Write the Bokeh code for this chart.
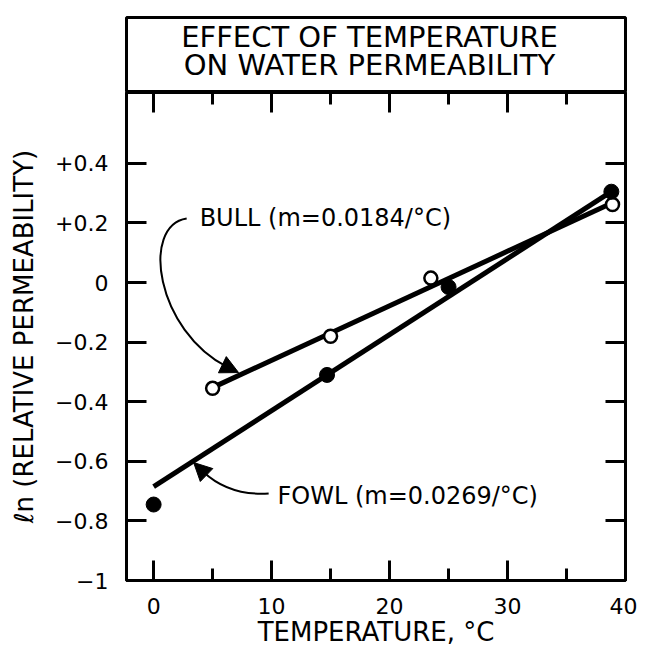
from bokeh.plotting import figure
from bokeh.models import Range1d, FixedTicker, LinearAxis, Label, Arrow, NormalHead, CustomJSTickFormatter
from bokeh.layouts import column
from bokeh.embed import file_html
from bokeh.resources import INLINE

# ---- data ----
temp_bull = [5.0, 15.0, 23.5, 38.9]
lnp_bull = [-0.355, -0.18, 0.015, 0.262]
temp_fowl = [0.0, 14.7, 25.0, 38.8]
lnp_fowl = [-0.745, -0.31, -0.015, 0.305]

bull_fit_x = [5.4, 38.9]
bull_fit_y = [-0.345, 0.268]
fowl_fit_x = [0.0, 38.8]
fowl_fit_y = [-0.685, 0.305]

x_ticks = [0, 10, 20, 30, 40]
x_minor = [5, 15, 25, 35]
y_ticks = [-1.0, -0.8, -0.6, -0.4, -0.2, 0.0, 0.2, 0.4]
y_tick_labels = ["\u22121", "\u22120.8", "\u22120.6", "\u22120.4", "\u22120.2", "0", "+0.2", "+0.4"]

title_lines = ["EFFECT OF TEMPERATURE", "ON WATER PERMEABILITY"]
bull_note = "BULL (m=0.0184/\u00b0C)"
fowl_note = "FOWL (m=0.0269/\u00b0C)"
x_label = "TEMPERATURE, \u00b0C"
y_label = "\u2113n (RELATIVE PERMEABILITY)"

FONT = "DejaVu Sans"
LW = 3

# ---- title box ----
t = figure(frame_width=499, frame_height=75, min_border_left=126, min_border_right=12,
           min_border_top=17, min_border_bottom=0, x_range=Range1d(0, 1), y_range=Range1d(0, 1),
           x_axis_type=None, y_axis_type=None, output_backend="svg", toolbar_location=None)
t.outline_line_color = "black"
t.outline_line_width = LW
t.grid.visible = False
for yy, txt in zip([0.74, 0.365], title_lines):
    t.add_layout(Label(x=0.487, y=yy, text=txt, text_align="center", text_baseline="middle",
                       text_font=FONT, text_font_size="29px", text_color="black"))

# ---- main plot ----
p = figure(frame_width=499, frame_height=488, min_border_left=126, min_border_right=12,
           min_border_top=0, min_border_bottom=60,
           x_range=Range1d(-2.3, 40), y_range=Range1d(-1, 0.638),
           x_axis_type=None, y_axis_type=None, output_backend="svg", toolbar_location=None)
p.outline_line_color = "black"
p.outline_line_width = LW
p.grid.visible = False

blank = CustomJSTickFormatter(code="return ''")


def style(ax, labels=True):
    ax.axis_line_width = LW
    ax.major_tick_line_width = LW
    ax.minor_tick_line_width = LW
    ax.major_tick_in = 20
    ax.major_tick_out = 0
    ax.minor_tick_in = 12
    ax.minor_tick_out = 0
    ax.major_label_text_font = FONT
    ax.axis_label_text_font = FONT
    ax.axis_label_text_font_style = "normal"
    ax.major_label_text_color = "black"
    ax.axis_label_text_color = "black"
    if not labels:
        ax.formatter = blank
        ax.major_label_text_font_size = "1px"
        ax.major_label_standoff = 0
        ax.axis_label_standoff = 0


bx = LinearAxis(ticker=FixedTicker(ticks=x_ticks, minor_ticks=x_minor))
style(bx)
bx.major_label_text_font_size = "22px"
bx.major_label_standoff = 17
bx.axis_label = x_label
bx.axis_label_text_font_size = "26px"
bx.axis_label_standoff = 0
p.add_layout(bx, "below")

ax_top = LinearAxis(ticker=FixedTicker(ticks=x_ticks[:-1], minor_ticks=x_minor))
style(ax_top, labels=False)
p.add_layout(ax_top, "above")

ly = LinearAxis(ticker=FixedTicker(ticks=y_ticks))
style(ly)
ly.major_label_overrides = {v: s for v, s in zip(y_ticks, y_tick_labels)}
ly.major_label_text_font_size = "22px"
ly.major_label_standoff = 18
ly.axis_label = y_label
ly.axis_label_text_font_size = "26px"
ly.axis_label_standoff = 13
p.add_layout(ly, "left")

ry = LinearAxis(ticker=FixedTicker(ticks=y_ticks[1:]))
style(ry, labels=False)
p.add_layout(ry, "right")

# fitted lines
p.line(bull_fit_x, bull_fit_y, line_width=5, line_color="black")
p.line(fowl_fit_x, fowl_fit_y, line_width=5, line_color="black")

# points
p.scatter(temp_bull, lnp_bull, marker="circle", size=13, fill_color="white",
          line_color="black", line_width=2.5)
p.scatter(temp_fowl, lnp_fowl, marker="circle", size=15, fill_color="black",
          line_color="black")

# annotations
p.add_layout(Label(x=3.9, y=0.218, text=bull_note, text_align="left", text_baseline="middle",
                   text_font=FONT, text_font_size="24px", text_color="black"))
p.add_layout(Label(x=10.5, y=-0.718, text=fowl_note, text_align="left", text_baseline="middle",
                   text_font=FONT, text_font_size="24px", text_color="black"))

# curved leader arrows
p.bezier(x0=[2.80], y0=[0.215], cx0=[-1.10], cy0=[0.191], cx1=[0.17], cy1=[-0.161],
         x1=[6.3], y1=[-0.285], line_width=2, line_color="black")
p.add_layout(Arrow(end=NormalHead(size=18, fill_color="black", line_color="black"),
                   x_start=6.0, y_start=-0.279, x_end=7.2, y_end=-0.302,
                   line_width=2, line_color="black"))

p.bezier(x0=[9.75], y0=[-0.708], cx0=[6.95], cy0=[-0.715], cx1=[5.25], cy1=[-0.674],
         x1=[4.2], y1=[-0.635], line_width=2, line_color="black")
p.add_layout(Arrow(end=NormalHead(size=18, fill_color="black", line_color="black"),
                   x_start=4.25, y_start=-0.637, x_end=3.39, y_end=-0.604,
                   line_width=2, line_color="black"))

layout = column(t, p, spacing=0)
open("out.html", "w").write(file_html(layout, INLINE))
